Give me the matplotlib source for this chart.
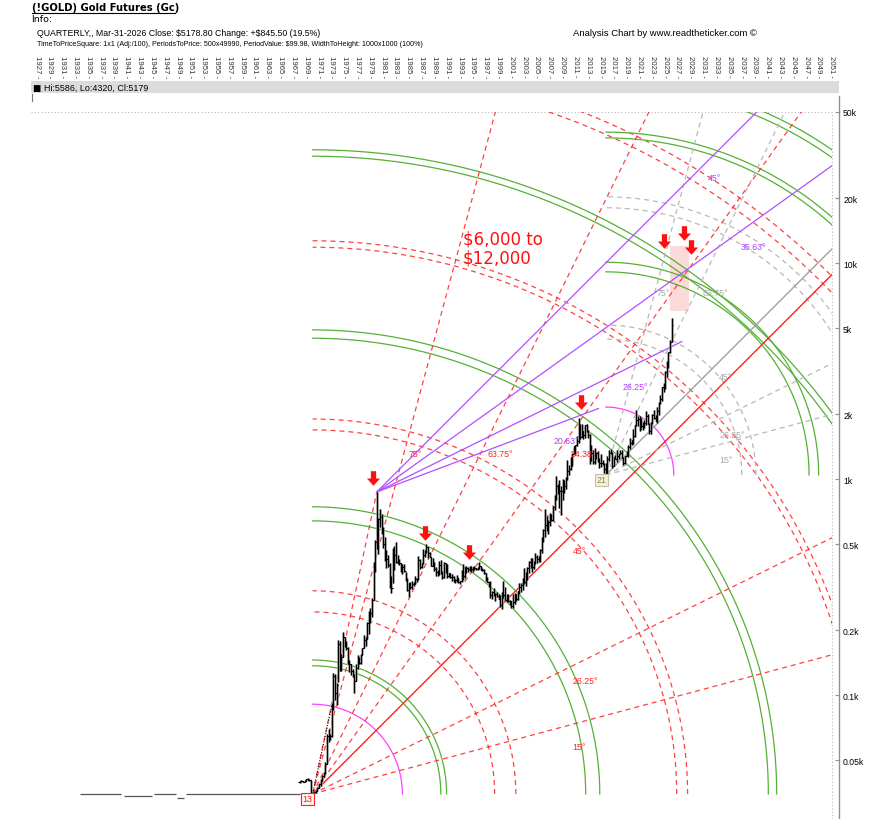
import numpy as np
import matplotlib
matplotlib.use("Agg")
import matplotlib.pyplot as plt
from matplotlib.path import Path
from matplotlib.patches import Rectangle
from matplotlib.lines import Line2D
from matplotlib.ticker import FixedLocator, FixedFormatter, NullLocator

plt.rcParams['font.family'] = ['Liberation Sans', 'DejaVu Sans']

# ---------------- texts ----------------
title = "(!GOLD) Gold Futures (Gc)"
info_label = "Info:"
info_line = r"QUARTERLY,, Mar-31-2026 Close: \$5178.80 Change: +\$845.50 (19.5%)"
params_line = (r"TimeToPriceSquare: 1x1 (Adj:/100), PeriodsToPrice: 500x49990, "
               r"PeriodValue: \$99.98, WidthToHeight: 1000x1000 (100%)")
credit = "Analysis Chart by www.readtheticker.com \u00a9"
hlc_mark = "\u25a0"
hlc_text = "Hi:5586, Lo:4320, Cl:5179"
target_text = "\\$6,000 to\n\\$12,000"

# ---------------- axes ----------------
year_ticks = list(range(1927, 2052, 2))
price_ticks = [50, 100, 200, 500, 1000, 2000, 5000, 10000, 20000, 50000]
price_labels = ["0.05k", "0.1k", "0.2k", "0.5k", "1k", "2k", "5k", "10k", "20k", "50k"]

# ---------------- price data ----------------
# fixed-price era (start year, end year, price)
flat_start = [1933.75, 1940.5, 1945.2, 1948.9, 1950.2]
flat_end = [1940.1, 1945.0, 1948.7, 1949.9, 1968.0]
flat_price = [35.0, 34.2, 34.8, 33.5, 35.0]

# quarterly bars from 1968 Q1 to 2026 Q1
bar_first_year = 1968
bar_first_open = 39.8
bar_high = [
    40.3, 40.6, 40.2, 40.5,  41.2, 41.3, 41.0, 40.8,
    35.6, 35.9, 36.4, 37.6,  39.0, 41.2, 43.0, 44.0,
    49.0, 66.0, 70.0, 66.0,  92.0, 127.0, 126.0, 114.0,
    180.0, 179.0, 155.0, 197.0,  186.0, 178.0, 168.0, 146.0,
    140.0, 133.0, 125.0, 139.0,  153.0, 151.0, 155.0, 166.0,
    190.0, 186.0, 218.0, 245.0,  255.0, 283.0, 412.0, 524.0,
    873.0, 660.0, 725.0, 690.0,  600.0, 540.0, 470.0, 445.0,
    410.0, 355.0, 482.0, 489.0,  511.0, 446.0, 428.0, 410.0,
    405.0, 404.0, 373.0, 350.0,  330.0, 335.0, 340.0, 335.0,
    358.0, 348.0, 442.0, 427.0,  410.0, 478.0, 470.0, 502.0,
    486.0, 461.0, 438.0, 430.0,  412.0, 393.0, 380.0, 418.0,
    425.0, 375.0, 415.0, 410.0,  405.0, 370.0, 370.0, 364.0,
    357.0, 345.0, 360.0, 350.0,  340.0, 380.0, 406.0, 392.0,
    397.0, 392.0, 397.0, 398.0,  393.0, 397.0, 390.0, 394.0,
    416.0, 397.0, 390.0, 385.0,  368.0, 352.0, 335.0, 337.0,
    303.0, 315.0, 298.0, 300.0,  293.0, 290.0, 300.0, 339.0,
    316.0, 293.0, 295.0, 276.0,  273.0, 295.0, 298.0, 293.0,
    305.0, 331.0, 330.0, 351.0,  390.0, 373.0, 394.0, 417.0,
    430.0, 432.0, 418.0, 456.0,  446.0, 443.0, 474.0, 542.0,
    587.0, 730.0, 678.0, 650.0,  695.0, 694.0, 750.0, 845.0,
    1033.0, 950.0, 990.0, 935.0,  1006.0, 990.0, 1020.0, 1227.0,
    1163.0, 1265.0, 1315.0, 1432.0,  1447.0, 1578.0, 1923.0, 1803.0,
    1792.0, 1680.0, 1790.0, 1798.0,  1697.0, 1616.0, 1434.0, 1361.0,
    1392.0, 1333.0, 1346.0, 1255.0,  1308.0, 1232.0, 1191.0, 1191.0,
    1287.0, 1362.0, 1377.0, 1337.0,  1264.0, 1296.0, 1362.0, 1307.0,
    1366.0, 1365.0, 1262.0, 1285.0,  1346.0, 1442.0, 1557.0, 1525.0,
    1704.0, 1789.0, 2089.0, 1966.0,  1960.0, 1919.0, 1834.0, 1877.0,
    2078.0, 2000.0, 1814.0, 1836.0,  2009.0, 2085.0, 1987.0, 2152.0,
    2265.0, 2450.0, 2685.0, 2801.0,  3175.0, 3509.0, 3892.0, 4398.0,
    5586.0,
]
bar_low = [
    39.5, 39.8, 39.6, 39.8,  40.2, 40.5, 40.2, 35.3,
    34.8, 35.1, 35.3, 36.1,  37.2, 38.2, 40.0, 41.8,
    43.5, 48.0, 61.0, 62.0,  64.0, 86.0, 95.0, 90.0,
    115.0, 129.0, 129.0, 150.0,  167.0, 162.0, 139.0, 128.0,
    124.0, 122.0, 103.0, 116.0,  132.0, 139.0, 140.0, 153.0,
    166.0, 170.0, 183.0, 193.0,  216.0, 230.0, 277.0, 372.0,
    474.0, 453.0, 600.0, 560.0,  480.0, 420.0, 390.0, 392.0,
    315.0, 297.0, 330.0, 380.0,  408.0, 404.0, 400.0, 372.0,
    364.0, 371.0, 338.0, 305.0,  284.0, 310.0, 310.0, 320.0,
    328.0, 336.0, 343.0, 385.0,  388.0, 406.0, 436.0, 457.0,
    432.0, 435.0, 395.0, 395.0,  377.0, 358.0, 355.0, 359.0,
    365.0, 345.0, 351.0, 370.0,  350.0, 352.0, 348.0, 340.0,
    336.0, 332.0, 336.0, 330.0,  326.0, 336.0, 342.0, 350.0,
    370.0, 372.0, 378.0, 374.0,  372.0, 382.0, 380.0, 380.0,
    384.0, 380.0, 378.0, 365.0,  338.0, 333.0, 316.0, 283.0,
    279.0, 287.0, 272.0, 284.0,  279.0, 256.0, 251.0, 282.0,
    275.0, 270.0, 269.0, 262.0,  255.0, 255.0, 264.0, 272.0,
    277.0, 296.0, 300.0, 308.0,  326.0, 321.0, 342.0, 368.0,
    390.0, 372.0, 386.0, 405.0,  410.0, 412.0, 414.0, 456.0,
    512.0, 543.0, 575.0, 560.0,  605.0, 642.0, 643.0, 723.0,
    800.0, 852.0, 740.0, 681.0,  800.0, 865.0, 905.0, 990.0,
    1044.0, 1106.0, 1157.0, 1310.0,  1308.0, 1418.0, 1478.0, 1532.0,
    1560.0, 1527.0, 1555.0, 1658.0,  1555.0, 1180.0, 1208.0, 1180.0,
    1182.0, 1240.0, 1204.0, 1132.0,  1142.0, 1162.0, 1072.0, 1046.0,
    1062.0, 1208.0, 1305.0, 1124.0,  1146.0, 1240.0, 1204.0, 1236.0,
    1302.0, 1251.0, 1160.0, 1182.0,  1277.0, 1266.0, 1382.0, 1446.0,
    1451.0, 1566.0, 1757.0, 1765.0,  1677.0, 1723.0, 1688.0, 1722.0,
    1780.0, 1805.0, 1615.0, 1617.0,  1804.0, 1893.0, 1858.0, 1823.0,
    1984.0, 2228.0, 2293.0, 2540.0,  2614.0, 2957.0, 3268.0, 3840.0,
    4320.0,
]
bar_close = [
    40.0, 40.1, 39.9, 40.2,  41.0, 40.8, 40.5, 35.4,
    35.2, 35.6, 36.2, 37.4,  38.9, 40.1, 42.5, 43.6,
    48.3, 65.2, 65.5, 64.9,  90.0, 123.0, 103.0, 112.0,
    172.0, 143.0, 151.0, 186.5,  177.0, 166.0, 142.0, 140.0,
    129.0, 124.0, 117.0, 134.5,  149.0, 141.0, 154.0, 165.0,
    181.0, 183.0, 217.0, 226.0,  240.0, 277.0, 397.0, 512.0,
    494.0, 653.0, 666.0, 589.0,  499.0, 422.0, 428.0, 400.0,
    320.0, 315.0, 397.0, 448.0,  414.0, 416.0, 408.0, 382.0,
    394.0, 375.0, 341.0, 308.0,  330.0, 317.0, 326.0, 327.0,
    345.0, 345.0, 424.0, 391.0,  408.0, 448.0, 459.0, 484.0,
    457.0, 436.0, 397.0, 410.0,  385.0, 373.0, 367.0, 401.0,
    368.0, 352.0, 408.0, 386.0,  356.0, 367.0, 354.0, 353.0,
    341.0, 343.0, 349.0, 333.0,  337.0, 378.0, 355.0, 391.0,
    389.0, 386.0, 394.0, 383.0,  392.0, 387.0, 384.0, 387.0,
    396.0, 382.0, 379.0, 369.0,  349.0, 334.0, 332.0, 290.0,
    301.0, 296.0, 293.0, 288.0,  279.0, 261.0, 299.0, 290.0,
    277.0, 288.0, 273.0, 272.0,  258.0, 270.0, 293.0, 279.0,
    303.0, 318.0, 324.0, 347.0,  336.0, 346.0, 388.0, 415.0,
    426.0, 392.0, 416.0, 438.0,  427.0, 436.0, 473.0, 517.0,
    582.0, 614.0, 600.0, 632.0,  663.0, 650.0, 742.0, 834.0,
    933.0, 930.0, 884.0, 884.0,  924.0, 927.0, 1008.0, 1097.0,
    1113.0, 1244.0, 1307.0, 1421.0,  1439.0, 1500.0, 1624.0, 1566.0,
    1668.0, 1604.0, 1776.0, 1675.0,  1598.0, 1234.0, 1327.0, 1202.0,
    1284.0, 1322.0, 1210.0, 1184.0,  1183.0, 1172.0, 1115.0, 1060.0,
    1234.0, 1320.0, 1316.0, 1151.0,  1249.0, 1242.0, 1280.0, 1303.0,
    1325.0, 1252.0, 1192.0, 1282.0,  1293.0, 1409.0, 1472.0, 1517.0,
    1577.0, 1781.0, 1887.0, 1895.0,  1713.0, 1770.0, 1755.0, 1828.0,
    1954.0, 1807.0, 1672.0, 1824.0,  1986.0, 1929.0, 1866.0, 2071.0,
    2254.0, 2339.0, 2660.0, 2641.0,  3150.0, 3307.0, 3873.0, 4333.3,
    5178.8,
]

# ---------------- Gann construction data ----------------
pivot_O = (1970.0, 35.0)       # 1970 low ("13")
pivot_H = (1980.0, 873.0)      # 1980 high
pivot_P = (2015.75, 1046.0)    # 2015 low ("21")

O_green_r = [20.0, 20.9, 42.6, 44.8, 71.1, 72.4, 99.5, 100.5]
O_red_r = [28.4, 31.7, 56.8, 58.5, 85.3, 86.3, 112.6, 114.4]
O_magenta_r = [14.0]
P_green_r = [31.7, 33.2, 52.6, 53.5, 60.8, 61.8]
P_gray_r = [21.2, 23.4, 41.7, 43.4]
P_magenta_r = [10.6]

O_fan_angles = [15.0, 26.25, 54.38, 63.75, 75.0]
P_fan_angles = [15.0, 26.25, 63.75, 75.0]
H_fan_angles = [20.63, 26.25, 35.63, 45.0]
H_fan_end = [2014.6, 2027.6, None, None]

red_lab_text = ["75\u00b0", "63.75\u00b0", "54.38\u00b0", "45\u00b0", "26.25\u00b0", "15\u00b0"]
red_lab_year = [1985.97, 1999.23, 2012.18, 2011.56, 2012.49, 2011.56]
red_lab_price = [1309, 1309, 1309, 466, 116.6, 58.3]
pur_lab_text = ["20.63\u00b0", "26.25\u00b0", "35.63\u00b0", "45\u00b0"]
pur_lab_year = [2009.53, 2020.29, 2038.70, 2032.62]
pur_lab_price = [1504, 2674, 11880, 24800]
gry_lab_text = ["75\u00b0", "63.75\u00b0", "45\u00b0", "26.25\u00b0", "15\u00b0"]
gry_lab_year = [2024.66, 2032.77, 2034.33, 2035.42, 2034.49]
gry_lab_price = [7280, 7280, 2975, 1603, 1228]

arrow_year = [1979.42, 1987.53, 1994.40, 2011.87, 2024.82, 2027.94, 2029.03]
arrow_price = [1014, 564, 461, 2277, 12670, 13800, 11880]

target_years = (2025.75, 2028.75)
target_prices = (6000, 12000)

# ---------------- colours ----------------
RED = "#ff2020"
GREEN = "#55b035"
PURPLE = "#b050ff"
MAGENTA = "#ff40ff"
GRAY_D = "#b8b8b8"
GRAY_S = "#a0a0a0"
DASH = (0, (4, 3.2))

# ---------------- figure ----------------
W, H = 872, 820
fig = plt.figure(figsize=(W / 100, H / 100), dpi=100)
ax_l, ax_r, ax_t, ax_b = 31, 832, 113, 820
ax = fig.add_axes([ax_l / W, 1 - ax_b / H, (ax_r - ax_l) / W, (ax_b - ax_t) / H])
ax.set_yscale('log')
ax.set_xlim(1926.06, 2051.03)
ax.set_ylim(26.8, 50000)
ax.set_xticks([])
ax.yaxis.set_major_locator(FixedLocator(price_ticks))
ax.yaxis.set_major_formatter(FixedFormatter(price_labels))
ax.yaxis.set_minor_locator(NullLocator())
ax.yaxis.tick_right()
for s in ['top', 'left', 'bottom']:
    ax.spines[s].set_visible(False)
ax.spines['right'].set_position(('outward', 5.0))
ax.spines['right'].set_color('#909090')
ax.spines['right'].set_linewidth(1.0)
ax.tick_params(axis='y', direction='in', length=3, width=0.8, color='#909090',
               labelsize=6.2, pad=3)

# dotted frame (top and right)
ax.plot([0, 1], [1, 1], transform=ax.transAxes, color='#bbbbbb', lw=0.8,
        ls=(0, (1, 2)), clip_on=False)
ax.plot([1, 1], [0, 1], transform=ax.transAxes, color='#bbbbbb', lw=0.8,
        ls=(0, (1, 2)), clip_on=False)

T = ax.transData
Ti = T.inverted()
px_per_year = T.transform((2001, 100))[0] - T.transform((2000, 100))[0]


def arc(center, r_years, **kw):
    c = T.transform(center)
    r = r_years * px_per_year
    t = np.linspace(0, np.pi / 2, 300)
    pts = np.column_stack([c[0] + r * np.cos(t), c[1] + r * np.sin(t)])
    d = Ti.transform(pts)
    ax.plot(d[:, 0], d[:, 1], **kw)


def ray(center, angle, end_year=None, **kw):
    c = T.transform(center)
    a = np.deg2rad(angle)
    if end_year is None:
        L = 3000.0
    else:
        L = (end_year - center[0]) * px_per_year / np.cos(a)
    e = c + L * np.array([np.cos(a), np.sin(a)])
    d = Ti.transform(np.vstack([c, e]))
    ax.plot(d[:, 0], d[:, 1], **kw)


def segment(p0, p1, **kw):
    ax.plot([p0[0], p1[0]], [p0[1], p1[1]], **kw)


# target box
ax.add_patch(Rectangle((target_years[0], target_prices[0]),
                       target_years[1] - target_years[0],
                       target_prices[1] - target_prices[0],
                       facecolor='#fbdada', edgecolor='none', zorder=1))

# circles around the 1970 low
for r in O_green_r:
    arc(pivot_O, r, color=GREEN, lw=0.9, zorder=2)
for r in O_red_r:
    arc(pivot_O, r, color=RED, lw=0.9, ls=DASH, alpha=0.85, zorder=2)
for r in O_magenta_r:
    arc(pivot_O, r, color=MAGENTA, lw=0.9, zorder=2)
# circles around the 2015 low
for r in P_green_r:
    arc(pivot_P, r, color=GREEN, lw=0.9, zorder=2)
for r in P_gray_r:
    arc(pivot_P, r, color=GRAY_D, lw=0.9, ls=DASH, zorder=2)
for r in P_magenta_r:
    arc(pivot_P, r, color=MAGENTA, lw=0.9, zorder=2)

# fans
for a in O_fan_angles:
    ray(pivot_O, a, color=RED, lw=0.9, ls=DASH, alpha=0.85, zorder=3)
ray(pivot_O, 45.0, color=RED, lw=1.0, zorder=3)
segment(pivot_O, pivot_H, color=RED, lw=0.9, ls=DASH, alpha=0.85, zorder=3)
for a in P_fan_angles:
    ray(pivot_P, a, color=GRAY_D, lw=0.9, ls=DASH, zorder=3)
ray(pivot_P, 45.0, color=GRAY_S, lw=1.0, zorder=3)
for a, e in zip(H_fan_angles, H_fan_end):
    ray(pivot_H, a, e, color=PURPLE, lw=0.9, zorder=3)

# fixed-price era
ax.hlines(flat_price, flat_start, flat_end, color='#555555', lw=0.9, zorder=4)

# quarterly OHLC bars
n = len(bar_close)
xs = bar_first_year + 0.25 * np.arange(n)
opens = [bar_first_open] + bar_close[:-1]
tick = 0.22
ax.vlines(xs, bar_low, bar_high, color='#9a9a9a', lw=1.8, zorder=4)
ax.vlines(xs, bar_low, bar_high, color='black', lw=0.8, zorder=5)
ax.hlines(opens, xs - tick, xs, color='black', lw=0.8, zorder=5)
ax.hlines(bar_close, xs, xs + tick, color='black', lw=0.8, zorder=5)
# dotted swing line from the 1970 low
ax.plot([pivot_O[0], 1973.0], [pivot_O[1], 90.0], color='black', lw=0.8,
        ls=(0, (1, 1.5)), zorder=5)

# arrows
arrow_path = Path([(-0.18, 0.5), (0.18, 0.5), (0.18, 0.0), (0.45, 0.0),
                   (0.0, -0.5), (-0.45, 0.0), (-0.18, 0.0), (-0.18, 0.5)],
                  [Path.MOVETO] + [Path.LINETO] * 6 + [Path.CLOSEPOLY])
ax.plot(arrow_year, arrow_price, ls='none', marker=arrow_path, markersize=10.5,
        color='#ff1010', markeredgewidth=0, zorder=6)

# angle labels
for t, x, y in zip(red_lab_text, red_lab_year, red_lab_price):
    ax.text(x, y, t, color='#ff2020', fontsize=6.3, ha='center', va='center', zorder=7)
for t, x, y in zip(pur_lab_text, pur_lab_year, pur_lab_price):
    ax.text(x, y, t, color='#b040ff', fontsize=6.3, ha='center', va='center', zorder=7)
for t, x, y in zip(gry_lab_text, gry_lab_year, gry_lab_price):
    ax.text(x, y, t, color='#a8a8a8', fontsize=6.3, ha='center', va='center', zorder=7)

# target text
ax.text(1993.46, 14240, target_text, color='#ff1010', fontsize=12, ha='left',
        va='top', linespacing=1.05, family=['DejaVu Sans'], zorder=7)

# pivot boxes
ax.text(pivot_O[0] - 0.05, pivot_O[1] * 0.995, "13", color='#ff2020', fontsize=6.5,
        ha='right', va='top', zorder=8,
        bbox=dict(boxstyle='square,pad=0.15', fc='#fff4f0', ec='#ff2020', lw=0.8))
ax.text(pivot_P[0] + 0.05, pivot_P[1] * 0.995, "21", color='#8a8a70', fontsize=6.5,
        ha='right', va='top', zorder=8,
        bbox=dict(boxstyle='square,pad=0.15', fc='#f4f0d4', ec='#c8c0a0', lw=0.8))

# ---------------- header ----------------
def fx(x):
    return x / W


def fy(y):
    return 1 - y / H


fig.text(fx(32), fy(8), title, fontsize=7.2, fontweight='bold', family=['DejaVu Sans'],
         va='center', ha='left')
fig.add_artist(Line2D([fx(32), fx(175)], [fy(13.5), fy(13.5)], color='black', lw=0.8))
fig.text(fx(31), fy(20), info_label, fontsize=6.8, family=['DejaVu Sans'], va='center')
fig.text(fx(37), fy(33), info_line, fontsize=6.3, va='center')
fig.text(fx(37), fy(44), params_line, fontsize=5.1, va='center')
fig.text(fx(573), fy(33), credit, fontsize=6.8, va='center')

# year labels
for yr in year_ticks:
    xd = T.transform((yr, 100))[0] / W
    fig.text(xd, fy(78), f"{yr} -", rotation=270, fontsize=5.6, ha='center',
             va='bottom', color='#333333')

# grey info band
fig.add_artist(Rectangle((fx(31), fy(94)), fx(839) - fx(31), fy(82) - fy(94),
                         transform=fig.transFigure, facecolor='#dcdcdc',
                         edgecolor='none'))
fig.text(fx(32.5), fy(88), hlc_mark, fontsize=6.3, va='center', family=['DejaVu Sans'])
fig.text(fx(44), fy(88), hlc_text, fontsize=6.4, va='center')
fig.add_artist(Line2D([fx(31.5), fx(31.5)], [fy(95), fy(102)], color='#777777', lw=0.8))
fig.add_artist(Line2D([fx(839), fx(839)], [fy(97), fy(113)], color='#909090', lw=1.0))

fig.savefig("out.png", dpi=100)
